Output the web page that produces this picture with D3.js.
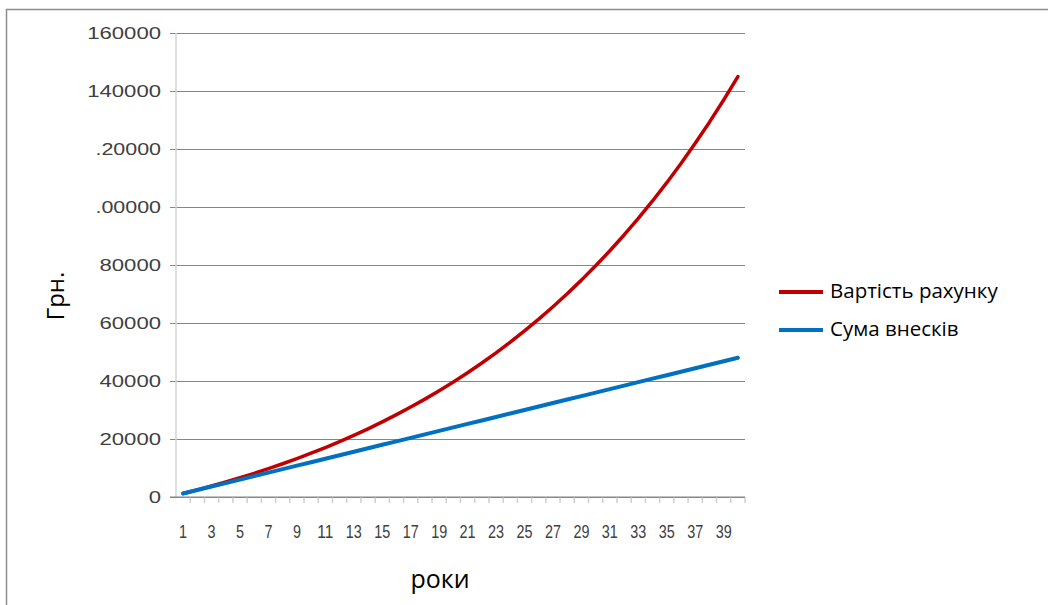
<!DOCTYPE html>
<html><head><meta charset="utf-8">
<script src="https://cdn.jsdelivr.net/npm/d3@7/dist/d3.min.js"></script>
<style>body{margin:0;background:#fff}svg{display:block}</style>
</head><body>
<svg id="c" width="1048" height="605"></svg>
<script>
const years = [1,2,3,4,5,6,7,8,9,10,11,12,13,14,15,16,17,18,19,20,21,22,23,24,25,26,27,28,29,30,31,32,33,34,35,36,37,38,39,40];
const accountValue = [1200,2460,3783,5172,6631,8162,9770,11459,13232,15093,17048,19101,21256,23518,25894,28389,31008,33759,36647,39679,42863,46206,49717,53402,57273,61336,65603,70083,74787,79727,84913,90359,96077,102080,108384,115004,121954,129251,136914,144960];
const contributions = [1200,2400,3600,4800,6000,7200,8400,9600,10800,12000,13200,14400,15600,16800,18000,19200,20400,21600,22800,24000,25200,26400,27600,28800,30000,31200,32400,33600,34800,36000,37200,38400,39600,40800,42000,43200,44400,45600,46800,48000];
const yTickValues = [0,20000,40000,60000,80000,100000,120000,140000,160000];
const yTickLabels = ["0","20000","40000","60000","80000",".00000",".20000","140000","160000"];
const seriesNames = ["Вартість рахунку","Сума внесків"];
const seriesColors = ["#c00000","#0070c0"];

const svg = d3.select("#c");
const L = 176, R = 745, T = 33, B = 497;
const x = d3.scaleBand().domain(years).range([L, R]);
const y = d3.scaleLinear().domain([0,160000]).range([B, T]);

// frame
svg.append("path").attr("d","M6.5,605 V9.5 H1048").attr("fill","none").attr("stroke","#8c8c8c").attr("stroke-width",1.5);

// gridlines
const yAxis = d3.axisLeft(y).tickValues(yTickValues).tickSize(-(R-L)).tickSizeOuter(0).tickFormat((d,i)=>yTickLabels[i]).tickPadding(15);
const gy = svg.append("g").attr("transform",`translate(${L},0)`).call(yAxis);
gy.select(".domain").remove();
gy.selectAll(".tick line").attr("x1",-6).attr("stroke","#868686").attr("stroke-width",1.2);
gy.selectAll(".tick text").attr("fill","#404040").attr("font-family","Liberation Sans, Arial, sans-serif").attr("font-size",16)
  .attr("dy","0.36em")
  .attr("textLength",(d,i)=>yTickLabels[i].replace(".","").length*12.3 + (yTickLabels[i].includes(".")?4:0))
  .attr("lengthAdjust","spacingAndGlyphs");

// y axis line
svg.append("line").attr("x1",L).attr("x2",L).attr("y1",T).attr("y2",B).attr("stroke","#d4d4d4").attr("stroke-width",1.5);

// x axis
const xAxis = d3.axisBottom(x).tickValues(years.filter(d=>d%2===1)).tickSize(0).tickPadding(29);
const gx = svg.append("g").attr("transform",`translate(0,${B})`).call(xAxis);
gx.select(".domain").remove();
gx.selectAll(".tick text").attr("fill","#404040").attr("font-family","Liberation Sans, Arial, sans-serif").attr("font-size",17.5)
  .attr("textLength",d=>String(d).length*8).attr("lengthAdjust","spacingAndGlyphs");
// category boundary ticks
svg.append("g").selectAll("line").data(years).join("line")
  .attr("x1",d=>x(d)+x.bandwidth()).attr("x2",d=>x(d)+x.bandwidth())
  .attr("y1",B).attr("y2",B+6).attr("stroke","#cfcfcf").attr("stroke-width",1.5);
svg.append("line").attr("x1",L-6).attr("x2",R).attr("y1",B).attr("y2",B).attr("stroke","#868686").attr("stroke-width",1.2);

// lines
const line = d3.line().x((d,i)=>x(years[i])+x.bandwidth()/2).y(d=>y(d));
[accountValue, contributions].forEach((s,k)=>{
  svg.append("path").datum(s).attr("d",line).attr("fill","none")
    .attr("stroke",seriesColors[k]).attr("stroke-width",k===0?3.5:4).attr("stroke-linecap","round").attr("stroke-linejoin","round");
});

// legend
const legY = [292, 330];
seriesNames.forEach((n,k)=>{
  svg.append("line").attr("x1",779).attr("x2",823).attr("y1",legY[k]).attr("y2",legY[k])
    .attr("stroke",seriesColors[k]).attr("stroke-width",4);
  svg.append("text").attr("x",830).attr("y",legY[k]+6).attr("font-family","Open Sans, sans-serif").attr("font-size",20.5)
    .attr("fill","#000").text(n);
});

// axis titles
svg.append("text").attr("transform","translate(64,296) rotate(-90)").attr("text-anchor","middle")
  .attr("font-family","Open Sans, sans-serif").attr("font-size",24).attr("fill","#000").text("Грн.");
svg.append("text").attr("x",440).attr("y",588).attr("text-anchor","middle")
  .attr("font-family","Open Sans, sans-serif").attr("font-size",25).attr("fill","#000").text("роки");
</script>
</body></html>
